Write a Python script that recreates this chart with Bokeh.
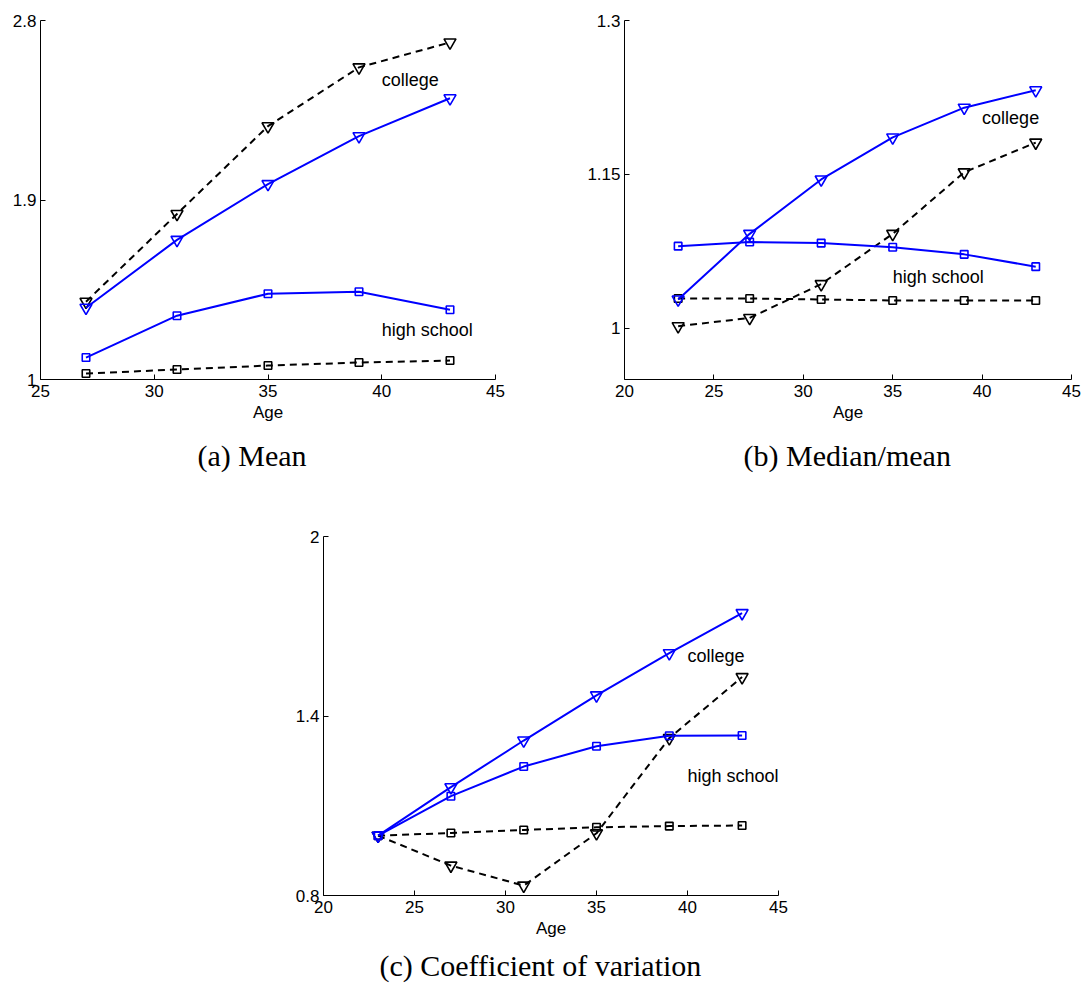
from bokeh.plotting import figure
from bokeh.layouts import column, row
from bokeh.models import Label, FixedTicker, Range1d, Title
from bokeh.embed import file_html
from bokeh.resources import INLINE

# ---------------- data ----------------
ages_a = [27, 31, 35, 39, 43]
mean_college_blue = [1.36, 1.70, 1.98, 2.22, 2.41]
mean_college_black = [1.39, 1.83, 2.27, 2.565, 2.69]
mean_hs_blue = [1.11, 1.32, 1.43, 1.44, 1.35]
mean_hs_black = [1.03, 1.05, 1.07, 1.085, 1.095]

ages_bc = [23, 27, 31, 35, 39, 43]
med_college_blue = [1.028, 1.092, 1.145, 1.186, 1.215, 1.232]
med_college_black = [1.002, 1.010, 1.043, 1.092, 1.152, 1.181]
med_hs_blue = [1.080, 1.084, 1.083, 1.079, 1.072, 1.060]
med_hs_black = [1.029, 1.029, 1.028, 1.027, 1.027, 1.027]

cv_college_blue = [1.0, 1.162, 1.318, 1.469, 1.610, 1.744]
cv_hs_blue = [1.0, 1.132, 1.231, 1.299, 1.334, 1.335]
cv_college_black = [1.0, 0.900, 0.833, 1.008, 1.326, 1.530]
cv_hs_black = [1.0, 1.009, 1.019, 1.028, 1.032, 1.034]

xticks_a = [25, 30, 35, 40, 45]
xticks_bc = [20, 25, 30, 35, 40, 45]
yticks_a = [1, 1.9, 2.8]
ylabels_a = ["1", "1.9", "2.8"]
yticks_b = [1, 1.15, 1.3]
ylabels_b = ["1", "1.15", "1.3"]
yticks_c = [0.8, 1.4, 2]
ylabels_c = ["0.8", "1.4", "2"]

captions = ["(a) Mean", "(b) Median/mean", "(c) Coefficient of variation"]
label_college = "college"
label_hs = "high school"

BLUE = "#0000ff"
BLACK = "#000000"
SANS = "Liberation Sans"
SERIF = "Liberation Serif"


def make_fig(xr, yr, xticks, yticks, ylabels, fw, fh, bl, br, bt, bb):
    p = figure(x_range=Range1d(*xr), y_range=Range1d(*yr),
               frame_width=fw, frame_height=fh,
               min_border_left=bl, min_border_right=br,
               min_border_top=bt, min_border_bottom=bb,
               toolbar_location=None, output_backend="svg")
    p.outline_line_color = None
    p.grid.visible = False
    p.background_fill_color = "white"
    p.border_fill_color = "white"
    p.xaxis.ticker = FixedTicker(ticks=xticks)
    p.yaxis.ticker = FixedTicker(ticks=yticks)
    p.yaxis.major_label_overrides = dict(zip(yticks, ylabels))
    p.axis.major_tick_in = 5
    p.axis.major_tick_out = 0
    p.axis.minor_tick_line_color = None
    p.axis.axis_line_color = BLACK
    p.axis.axis_line_width = 1
    p.axis.major_tick_line_color = BLACK
    p.axis.major_label_text_font = SANS
    p.axis.major_label_text_font_size = "17px"
    p.axis.major_label_text_color = BLACK
    p.xaxis.major_label_standoff = 5
    p.yaxis.major_label_standoff = 4
    p.xaxis.axis_label = "Age"
    p.xaxis.axis_label_text_font = SANS
    p.xaxis.axis_label_text_font_size = "17px"
    p.xaxis.axis_label_text_font_style = "normal"
    p.xaxis.axis_label_text_color = BLACK
    p.xaxis.axis_label_standoff = 3
    return p


def add_series(p, x, y, color, dashed, marker):
    dash = "7 5" if dashed else "solid"
    p.line(x, y, line_color=color, line_width=2, line_dash=dash)
    if marker == "tri":
        p.scatter(x, y, marker="inverted_triangle", size=12, line_color=color,
                  line_width=1.6, fill_alpha=0)
    else:
        p.scatter(x, y, marker="square", size=7.5, line_color=color,
                  line_width=1.6, fill_alpha=0)


def add_text(p, x, y, txt):
    p.add_layout(Label(x=x, y=y, text=txt, text_font=SANS, text_font_size="18px",
                       text_baseline="middle", text_align="left", text_color=BLACK))


def add_caption(p, offset, standoff, txt):
    p.add_layout(Title(text=txt, align="left", offset=offset, standoff=standoff,
                       vertical_align="top", text_font=SERIF, text_font_size="30px",
                       text_font_style="normal", text_color=BLACK), "below")


# Panel (a)
pa = make_fig((25, 45), (1, 2.8), xticks_a, yticks_a, ylabels_a, 455, 359, 40, 65, 20, 119)
add_series(pa, ages_a, mean_college_black, BLACK, True, "tri")
add_series(pa, ages_a, mean_college_blue, BLUE, False, "tri")
add_series(pa, ages_a, mean_hs_blue, BLUE, False, "sq")
add_series(pa, ages_a, mean_hs_black, BLACK, True, "sq")
add_text(pa, 40, 2.5, label_college)
add_text(pa, 40, 1.25, label_hs)
add_caption(pa, 157, 28, captions[0])

# Panel (b)
pb = make_fig((20, 45), (0.95, 1.3), xticks_bc, yticks_b, ylabels_b, 447, 359, 64, 13, 20, 119)
add_series(pb, ages_bc, med_college_black, BLACK, True, "tri")
add_series(pb, ages_bc, med_hs_black, BLACK, True, "sq")
add_series(pb, ages_bc, med_college_blue, BLUE, False, "tri")
add_series(pb, ages_bc, med_hs_blue, BLUE, False, "sq")
add_text(pb, 40, 1.205, label_college)
add_text(pb, 35, 1.05, label_hs)
add_caption(pb, 119, 28, captions[1])

# Panel (c)
pc = make_fig((20, 45), (0.8, 2), xticks_bc, yticks_c, ylabels_c, 455, 359, 323, 30, 38, 92)
add_series(pc, ages_bc, cv_college_black, BLACK, True, "tri")
add_series(pc, ages_bc, cv_hs_black, BLACK, True, "sq")
add_series(pc, ages_bc, cv_college_blue, BLUE, False, "tri")
add_series(pc, ages_bc, cv_hs_blue, BLUE, False, "sq")
add_text(pc, 40, 1.6, label_college)
add_text(pc, 40, 1.2, label_hs)
add_caption(pc, 56, 17, captions[2])

layout = column(row(pa, pb), pc)
open("out.html", "w").write(file_html(layout, INLINE))
